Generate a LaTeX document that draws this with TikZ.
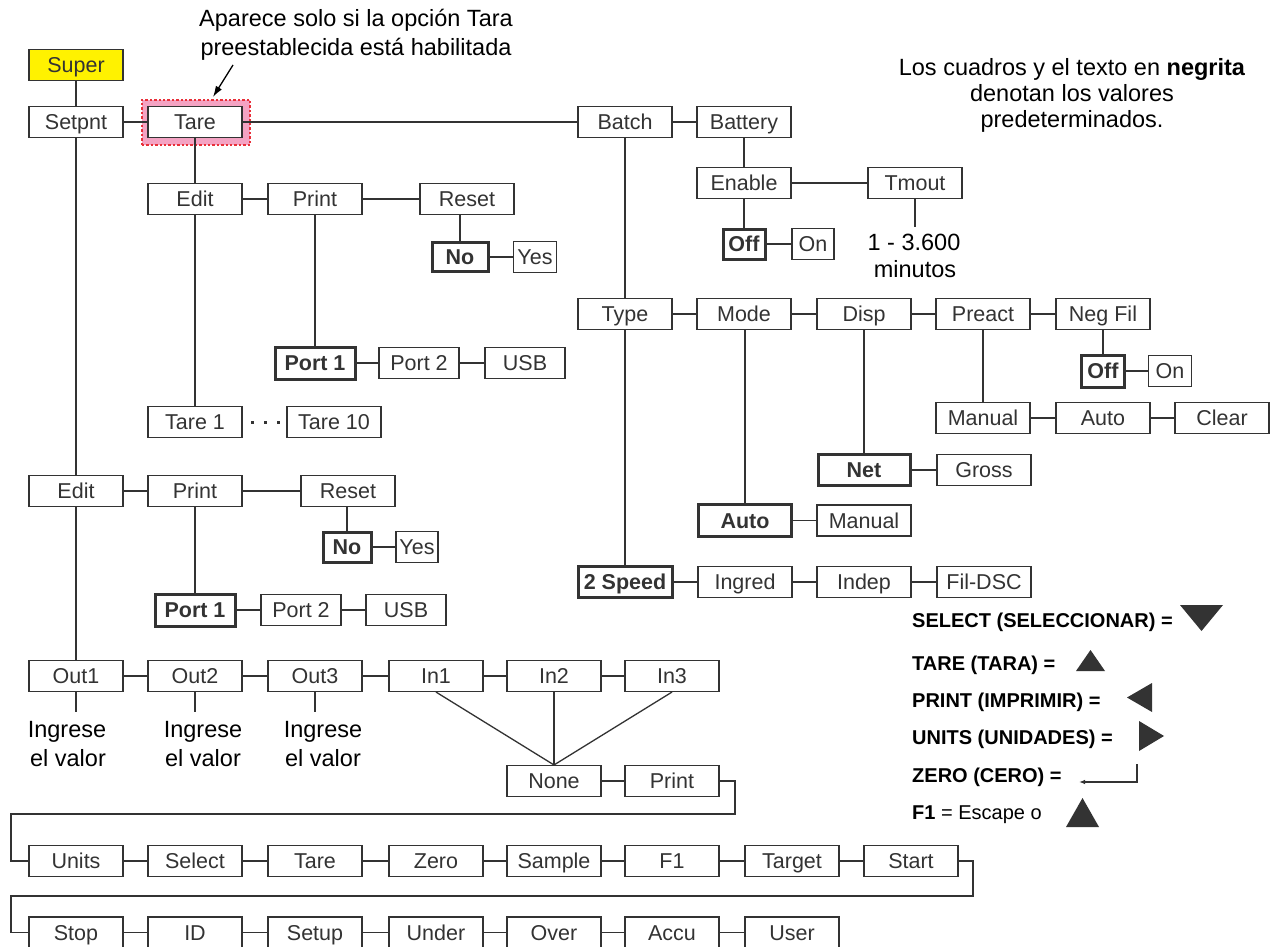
\documentclass[tikz,border=0pt]{standalone}
\usepackage{fontspec}
\setmainfont{Liberation Sans}
\usetikzlibrary{arrows.meta}
\definecolor{ink}{HTML}{333333}
\definecolor{hlpink}{HTML}{F4A3C3}
\definecolor{hlred}{HTML}{E8303A}
\definecolor{superyellow}{HTML}{FFF200}

\begin{document}
\begin{tikzpicture}[x=1pt,y=-1pt,
  bx/.style={draw=ink, line width=1.1pt, fill=white, text=ink, minimum width=94pt,
    minimum height=31pt, inner sep=0pt, text height=15.4pt, text depth=0pt,
    font=\fontsize{21.5}{24}\selectfont},
  bd/.style={bx, line width=3pt, font=\fontsize{21.5}{24}\selectfont\bfseries},
  ln/.style={draw=ink, line width=1.3pt},
  note/.style={font=\fontsize{23.5}{28}\selectfont, anchor=base, inner sep=0pt},
  key/.style={font=\fontsize{20}{24}\selectfont, anchor=base west, inner sep=0pt},
  tri/.style={fill=ink, draw=none}
]
\fill[white] (0,0) rectangle (1270,947);
\useasboundingbox (0,0) rectangle (1270,947);

% highlight around the preset tare entry
\node[fill=hlpink, draw=hlred, line width=2.4pt, dash pattern=on 2.4pt off 2pt,
      minimum width=108pt, minimum height=45pt, inner sep=0pt] (hl) at (196,122.5) {};

% ---------- top branch ----------
\node[bx, fill=superyellow] (super) at (76,65) {Super};
\node[bx] (setpnt) at (76,122) {Setpnt};
\node[bx, line width=1.6pt] (tare) at (195,122) {Tare};
\node[bx] (batch) at (625,122) {Batch};
\node[bx] (battery) at (744,122) {Battery};

\node[bx] (edit1) at (195,199) {Edit};
\node[bx] (print1) at (315,199) {Print};
\node[bx] (reset1) at (467,199) {Reset};
\node[bd, minimum width=56pt, minimum height=29pt] (no1) at (460,257) {No};
\node[bx, minimum width=43pt] (yes1) at (535,257) {Yes};
\node[bd, minimum width=80pt, minimum height=32pt] (porta1) at (315,363) {Port 1};
\node[bx, minimum width=80pt] (porta2) at (419,363) {Port 2};
\node[bx, minimum width=80pt] (usba) at (525,363) {USB};
\node[bx] (tare1) at (195,422) {Tare 1};
\node[bx] (tare10) at (334,422) {Tare 10};

\node[bx] (edit2) at (76,491) {Edit};
\node[bx] (print2) at (195,491) {Print};
\node[bx] (reset2) at (348,491) {Reset};
\node[bd, minimum width=48pt, minimum height=30pt] (no2) at (347,547) {No};
\node[bx, minimum width=42pt] (yes2) at (417,547) {Yes};
\node[bd, minimum width=80pt, minimum height=32pt] (portb1) at (195,610) {Port 1};
\node[bx, minimum width=80pt] (portb2) at (301,610) {Port 2};
\node[bx, minimum width=80pt] (usbb) at (406,610) {USB};

% ---------- batch branch ----------
\node[bx] (enable) at (744,183) {Enable};
\node[bx] (tmout) at (915,183) {Tmout};
\node[bd, minimum width=42pt, minimum height=30pt] (offa) at (744,244) {Off};
\node[bx, minimum width=42pt] (ona) at (813,244) {On};
\node[bx] (type) at (625,314) {Type};
\node[bx] (mode) at (744,314) {Mode};
\node[bx] (disp) at (864,314) {Disp};
\node[bx] (preact) at (983,314) {Preact};
\node[bx] (negfil) at (1103,314) {Neg Fil};
\node[bd, minimum width=43pt, minimum height=32pt] (offb) at (1103,371) {Off};
\node[bx, minimum width=43pt] (onb) at (1170,371) {On};
\node[bx] (manualp) at (983,418) {Manual};
\node[bx] (autop) at (1103,418) {Auto};
\node[bx] (clear) at (1222,418) {Clear};
\node[bd, minimum width=92pt, minimum height=31pt] (net) at (864,470) {Net};
\node[bx] (gross) at (984,470) {Gross};
\node[bd, minimum width=93pt, minimum height=32pt] (autom) at (745,520.5) {Auto};
\node[bx] (manualm) at (864,520.5) {Manual};
\node[bd, minimum width=94pt, minimum height=31pt] (speed) at (625,582) {2 Speed};
\node[bx] (ingred) at (745,582) {Ingred};
\node[bx] (indep) at (864,582) {Indep};
\node[bx] (fildsc) at (984,582) {Fil-DSC};

% ---------- outputs / inputs ----------
\node[bx] (out1) at (76,676) {Out1};
\node[bx] (out2) at (195,676) {Out2};
\node[bx] (out3) at (315,676) {Out3};
\node[bx] (in1) at (436,676) {In1};
\node[bx] (in2) at (554,676) {In2};
\node[bx] (in3) at (672,676) {In3};
\node[bx] (none) at (554,781) {None};
\node[bx] (print3) at (672,781) {Print};

% ---------- key assignments ----------
\node[bx] (units) at (76,861) {Units};
\node[bx] (select) at (195,861) {Select};
\node[bx] (tarek) at (315,861) {Tare};
\node[bx] (zero) at (436,861) {Zero};
\node[bx] (sample) at (554,861) {Sample};
\node[bx] (fone) at (672,861) {F1};
\node[bx] (target) at (792,861) {Target};
\node[bx] (start) at (911,861) {Start};

\node[bx] (stop) at (76,932.5) {Stop};
\node[bx] (id) at (195,932.5) {ID};
\node[bx] (setup) at (315,932.5) {Setup};
\node[bx] (under) at (436,932.5) {Under};
\node[bx] (over) at (554,932.5) {Over};
\node[bx] (accu) at (672,932.5) {Accu};
\node[bx] (user) at (792,932.5) {User};

% ---------- horizontal connectors ----------
\foreach \a/\b in {setpnt/tare, tare/batch, batch/battery,
  edit1/print1, print1/reset1, no1/yes1, porta1/porta2, porta2/usba,
  edit2/print2, print2/reset2, no2/yes2, portb1/portb2, portb2/usbb,
  enable/tmout, offa/ona,
  type/mode, mode/disp, disp/preact, preact/negfil, offb/onb,
  manualp/autop, autop/clear, net/gross, autom/manualm,
  speed/ingred, ingred/indep, indep/fildsc,
  out1/out2, out2/out3, out3/in1, in1/in2, in2/in3, none/print3,
  units/select, select/tarek, tarek/zero, zero/sample, sample/fone, fone/target, target/start,
  stop/id, id/setup, setup/under, under/over, over/accu, accu/user}
  \draw[ln] (\a.east) -- (\b.west);

% ---------- vertical connectors ----------
\foreach \a/\b in {super/setpnt, setpnt/edit2, edit2/out1, tare/edit1, edit1/tare1,
  print1/porta1, print2/portb1, battery/enable, enable/offa, batch/type,
  type/speed, disp/net, preact/manualp, negfil/offb}
  \draw[ln] (\a.south) -- (\b.north);
\draw[ln] (no1.north) -- (no1.north |- reset1.south);
\draw[ln] (no2.north) -- (no2.north |- reset2.south);
\draw[ln] (autom.north) -- (autom.north |- mode.south);

\coordinate (tmend) at (915,227);
\draw[ln] (tmout.south) -- (tmend);
\coordinate (o1end) at (76,712);
\coordinate (o2end) at (195,712);
\coordinate (o3end) at (315,712);
\draw[ln] (out1.south) -- (o1end);
\draw[ln] (out2.south) -- (o2end);
\draw[ln] (out3.south) -- (o3end);

\foreach \a in {in1,in2,in3} \draw[ln] (\a.south) -- (none.north);

% row wrap-around lines
\coordinate (wa) at (735,814);
\coordinate (wb) at (11,861);
\draw[ln] (print3.east) -| (wa) -| (wb) -- (units.west);
\coordinate (wc) at (973,896);
\coordinate (wd) at (11,932.5);
\draw[ln] (start.east) -| (wc) -| (wd) -- (stop.west);

% ellipsis between Tare 1 and Tare 10
\foreach \x in {252,265,278} \fill[ink] (\x-1.5,420.5) rectangle (\x+1.5,423.5);

% ---------- texts ----------
\node[note] at (356,27) {Aparece solo si la opción Tara};
\node[note] at (356,56) {preestablecida está habilitada};
\coordinate (arrowtail) at (233,65);
\coordinate (arrowtip) at (213,97);
\draw[line width=1.3pt, -{Latex[length=11pt,width=7pt]}] (arrowtail) -- (arrowtip);

\node[note] at (1072,76) {Los cuadros y el texto en \textbf{negrita}};
\node[note] at (1072,102) {denotan los valores};
\node[note] at (1072,128) {predeterminados.};

\node[note] at (914,250) {1 - 3.600};
\node[note] at (915,277) {minutos};

\node[note] at (67,737) {Ingrese};
\node[note] at (68,766) {el valor};
\node[note] at (203,737) {Ingrese};
\node[note] at (203,766) {el valor};
\node[note] at (323,737) {Ingrese};
\node[note] at (323,766) {el valor};

% ---------- legend ----------
\node[key] (k1) at (912,627) {\textbf{SELECT (SELECCIONAR) =}};
\fill[tri] (1180,605) -- (1223,605) -- (1201.5,631) -- cycle;
\node[key] (k2) at (912,670) {\textbf{TARE (TARA) =}};
\fill[tri] (1076,671) -- (1105,671) -- (1090.5,650) -- cycle;
\node[key] (k3) at (912,707) {\textbf{PRINT (IMPRIMIR) =}};
\fill[tri] (1152,683) -- (1152,712) -- (1127,697.5) -- cycle;
\node[key] (k4) at (912,744) {\textbf{UNITS (UNIDADES) =}};
\fill[tri] (1139,721) -- (1139,751) -- (1164,736) -- cycle;
\node[key] (k5) at (912,782) {\textbf{ZERO (CERO) =}};
\coordinate (zk1) at (1137,764);
\coordinate (zk2) at (1079,782);
\draw[ln, -{Latex[length=6pt,width=4.5pt]}] (zk1) |- (zk2);
\node[key] (k6) at (912,819) {\textbf{F1} = Escape o};
\fill[tri] (1066,827) -- (1099,827) -- (1082.5,798) -- cycle;

\end{tikzpicture}
\end{document}
